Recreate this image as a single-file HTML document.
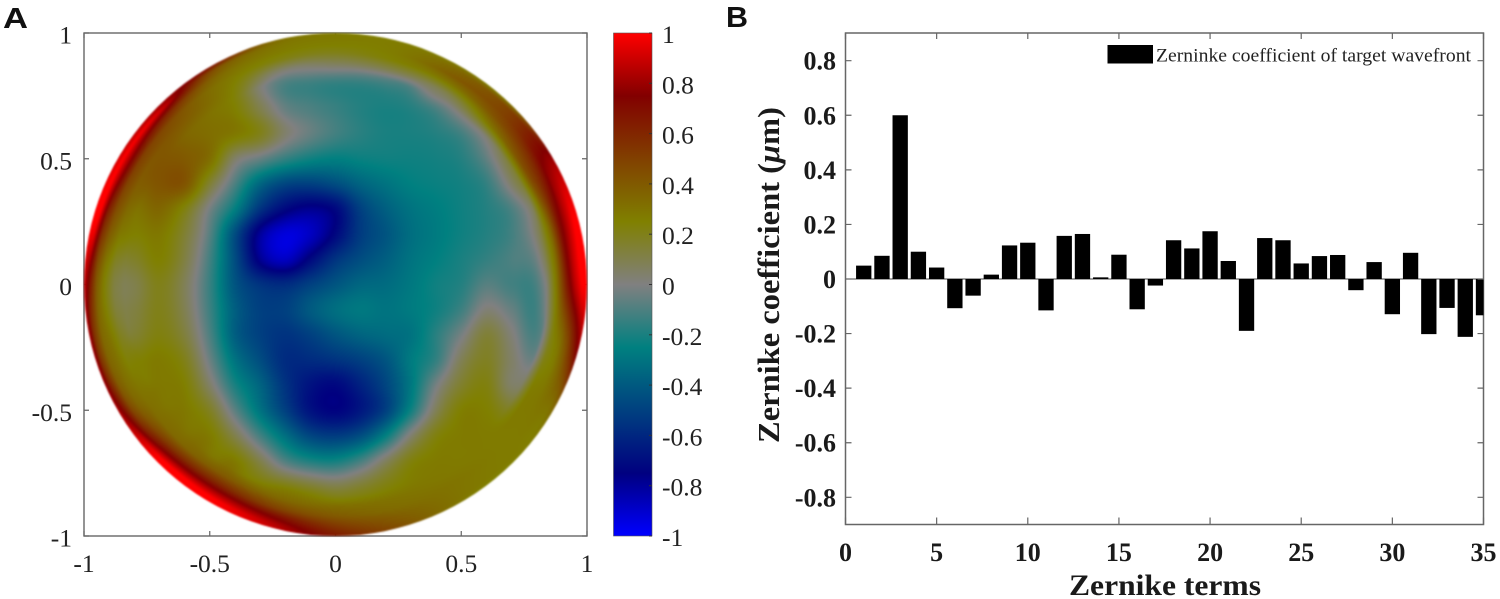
<!DOCTYPE html>
<html lang="en">
<head>
<meta charset="utf-8">
<title>Target wavefront and Zernike coefficients</title>
<style>
html,body{margin:0;padding:0;background:#fff;}
#stage{position:relative;width:1500px;height:599px;overflow:hidden;background:#fff;}
#stage svg{position:absolute;left:0;top:0;}
#over{filter:blur(0.3px);}
#wave{position:absolute;left:0;top:0;filter:blur(0.8px);}
text{font-family:"Liberation Serif",serif;fill:#222;}
.bold{font-weight:bold;fill:#1a1a1a;}
.panel{font-family:"Liberation Sans",sans-serif;font-weight:bold;font-size:29px;fill:#111;}
</style>
</head>
<body>
<div id="stage">
<svg id="under" width="1500" height="599"></svg>
<canvas id="wave" width="1500" height="599"></canvas>
<svg id="over" width="1500" height="599"></svg>
</div>
<script>
// ---------- Panel A data ----------
const gridX = [-1,-.9,-.8,-.7,-.6,-.5,-.4,-.3,-.2,-.1,0,.1,.2,.3,.4,.5,.6,.7,.8,.9,1];
const gridY = [1,.9,.8,.7,.6,.5,.4,.3,.2,.1,0,-.1,-.2,-.3,-.4,-.5,-.6,-.7,-.8,-.9,-1];
const waveGrid = [
[.3,.3,.3,.3,.3,.3,.3,.3,.3,.3,.3,.3,.3,.3,.3,.3,.3,.3,.3,.3,.3],
[.4,.4,.4,.4,.4,.35,.3,.25,.2,.15,.15,.15,.2,.25,.3,.35,.4,.4,.4,.4,.4],
[.5,.5,.5,.45,.35,.3,.22,.03,-.1,-.13,-.15,-.15,-.12,-.06,.17,.3,.4,.45,.5,.5,.5],
[.5,.5,.45,.4,.35,.3,.25,.1,-.05,-.1,-.14,-.18,-.2,-.18,-.1,.07,.3,.5,.5,.5,.5],
[.5,.5,.5,.4,.35,.32,.28,.2,.04,-.05,-.12,-.17,-.2,-.2,-.18,-.12,.05,.3,.6,.6,.6],
[.6,.6,.45,.42,.4,.32,.05,-.05,-.15,-.22,-.25,-.23,-.22,-.22,-.21,-.18,-.06,.18,.45,.7,.7],
[.6,.5,.38,.42,.42,.15,-.1,-.35,-.48,-.5,-.45,-.36,-.3,-.25,-.23,-.21,-.15,.05,.3,.65,.8],
[.6,.4,.3,.35,.22,-.02,-.25,-.55,-.72,-.78,-.72,-.5,-.38,-.3,-.26,-.22,-.18,-.1,.12,.6,.9],
[.5,.32,.25,.28,.15,-.08,-.45,-.8,-.93,-.88,-.72,-.52,-.42,-.32,-.27,-.22,-.18,-.12,.05,.5,1],
[.4,.17,.17,.25,.12,-.12,-.45,-.78,-.88,-.72,-.55,-.45,-.38,-.3,-.25,-.2,-.15,-.1,-.03,.4,1],
[.3,.1,.1,.2,.08,-.14,-.42,-.55,-.58,-.5,-.42,-.35,-.33,-.28,-.22,-.18,-.08,-.12,-.1,.3,1],
[.4,.12,.12,.2,.09,-.13,-.38,-.5,-.5,-.4,-.32,-.28,-.3,-.27,-.22,-.13,.02,-.05,-.12,.3,.9],
[.5,.15,.15,.22,.13,-.1,-.38,-.5,-.55,-.5,-.42,-.36,-.33,-.3,-.17,-.02,.14,.02,-.1,.25,.8],
[.7,.4,.25,.27,.2,-.04,-.3,-.45,-.58,-.58,-.55,-.5,-.42,-.27,-.15,.08,.18,.05,-.02,.4,.7],
[.8,.6,.3,.28,.25,.05,-.2,-.36,-.55,-.68,-.72,-.62,-.48,-.28,-.02,.16,.22,.05,.12,.4,.6],
[.9,.8,.55,.32,.28,.18,-.07,-.3,-.5,-.68,-.74,-.66,-.5,-.22,.08,.25,.25,.18,.27,.4,.4],
[.9,.9,.85,.5,.32,.27,.1,-.12,-.32,-.48,-.52,-.45,-.25,.03,.22,.27,.27,.27,.3,.3,.3],
[.9,.9,.9,.9,.55,.32,.27,.1,-.1,-.2,-.22,-.12,.06,.22,.27,.27,.27,.27,.27,.27,.27],
[.9,.9,.9,.9,.9,.65,.38,.28,.22,.15,.1,.15,.22,.27,.28,.28,.28,.28,.28,.28,.28],
[.9,.9,.9,.9,.9,.9,.85,.65,.5,.4,.32,.3,.3,.33,.3,.3,.3,.3,.3,.3,.3],
[.9,.9,.9,.9,.9,.9,.9,.8,.7,.6,.5,.4,.35,.3,.3,.3,.3,.3,.3,.3,.3]
];
// Rim of the aperture, one row every 15 degrees counter-clockwise from +x
const rimRadii = [.88,.92,.95,.98,1];
const rimValues = [
[.3,.65,.85,1,1],
[.35,.7,.85,1,1],
[.45,.6,.75,.8,.8],
[.3,.45,.5,.5,.3],
[.1,.3,.4,.35,.27],
[.1,.25,.27,.27,.26],
[.08,.2,.25,.27,.27],
[.05,.22,.27,.3,.35],
[.28,.3,.35,.45,.7],
[.4,.45,.6,.9,.8],
[.4,.5,.75,1,.9],
[.3,.42,.6,1,1],
[.12,.25,.4,.7,.9],
[.2,.3,.35,.55,.85],
[.3,.35,.45,.7,.85],
[.35,.55,.75,1,1],
[.4,.6,.8,1,1],
[.35,.5,.7,.85,.9],
[.32,.4,.5,.6,.65],
[.3,.33,.38,.42,.45],
[.28,.3,.3,.3,.28],
[.27,.27,.27,.27,.25],
[.27,.28,.3,.3,.35],
[.2,.3,.45,.65,.8]
];
const colorKnots = [-1,-.75,-.25,0,.25,.75,1];
const colorReds = [0,0,0,128,128,130,255];
const colorGreens = [0,0,128,128,128,0,0];
const colorBlues = [255,128,128,128,0,0,0];
const waveTicks = [-1,-.5,0,.5,1];
const waveTickLabels = ["-1","-0.5","0","0.5","1"];
const barTicks = [1,.8,.6,.4,.2,0,-.2,-.4,-.6,-.8,-1];
const barTickLabels = ["1","0.8","0.6","0.4","0.2","0","-0.2","-0.4","-0.6","-0.8","-1"];

// ---------- Panel B data ----------
const terms = [1,2,3,4,5,6,7,8,9,10,11,12,13,14,15,16,17,18,19,20,21,22,23,24,25,26,27,28,29,30,31,32,33,34,35];
const coefficients = [.049,.085,.6,.1,.042,-.107,-.061,.016,.123,.133,-.115,.158,.165,.006,.089,-.111,-.024,.142,.112,.175,.066,-.19,.15,.142,.057,.084,.088,-.041,.062,-.129,.096,-.202,-.106,-.212,-.133];
const termTicks = [0,5,10,15,20,25,30,35];
const termTickLabels = ["0","5","10","15","20","25","30","35"];
const coefTicks = [.8,.6,.4,.2,0,-.2,-.4,-.6,-.8];
const coefTickLabels = ["0.8","0.6","0.4","0.2","0","-0.2","-0.4","-0.6","-0.8"];

// ---------- Axis functions ----------
const A = {l:84,r:587,t:33,b:536};
const waveXS = v => (A.l+A.r)/2 + v*(A.r-A.l)/2;
const waveYS = v => (A.t+A.b)/2 - v*(A.b-A.t)/2;
const waveXI = p => (p-(A.l+A.r)/2)/((A.r-A.l)/2);
const waveYI = p => ((A.t+A.b)/2-p)/((A.b-A.t)/2);
const CB = {l:613.5,r:652,t:33,b:536};
const cbYS = v => CB.t + (1-v)/2*(CB.b-CB.t);
const B = {l:845.5,r:1483.5,t:33,b:524.5};
const termS = v => B.l + v/35*(B.r-B.l);
const coefS = v => 279 - v*272.9;

// ---------- Colour and field ----------
function colorOf(v){
  v=Math.max(-1,Math.min(1,v));
  let i=0; while(i<colorKnots.length-2 && v>colorKnots[i+1]) i++;
  const t=(v-colorKnots[i])/(colorKnots[i+1]-colorKnots[i]);
  return [colorReds[i]+t*(colorReds[i+1]-colorReds[i]),
          colorGreens[i]+t*(colorGreens[i+1]-colorGreens[i]),
          colorBlues[i]+t*(colorBlues[i+1]-colorBlues[i])];
}
function cr(a,b,c,d,t){return .5*(2*b+(c-a)*t+(2*a-5*b+4*c-d)*t*t+(3*b-a-3*c+d)*t*t*t);}
function gridAt(X,Y){
  const n=gridX.length;
  const fx=(X-gridX[0])/(gridX[1]-gridX[0]), fy=(Y-gridY[0])/(gridY[1]-gridY[0]);
  const ix=Math.max(0,Math.min(n-2,Math.floor(fx))), iy=Math.max(0,Math.min(n-2,Math.floor(fy)));
  const tx=fx-ix, ty=fy-iy, c=k=>Math.max(0,Math.min(n-1,k)), col=[];
  for(let j=-1;j<=2;j++){
    const row=waveGrid[c(iy+j)];
    col.push(cr(row[c(ix-1)],row[c(ix)],row[c(ix+1)],row[c(ix+2)],tx));
  }
  return cr(col[0],col[1],col[2],col[3],ty);
}
const RIM_START=.84;
function rimAt(aDeg,level){
  const m=rimValues.length, f=((aDeg%360+360)%360)/(360/m), i=Math.floor(f), t=f-i;
  return cr(rimValues[(i-1+m)%m][level],rimValues[i%m][level],rimValues[(i+1)%m][level],rimValues[(i+2)%m][level],t);
}
function fieldAt(X,Y){
  const r=Math.hypot(X,Y);
  if(r<=RIM_START) return gridAt(X,Y);
  const a=Math.atan2(Y,X)*180/Math.PI;
  let prevR=RIM_START, prevV=gridAt(X/r*RIM_START,Y/r*RIM_START);
  for(let k=0;k<rimRadii.length;k++){
    const v=rimAt(a,k);
    if(r<=rimRadii[k]){const t=(r-prevR)/(rimRadii[k]-prevR);return prevV+t*(v-prevV);}
    prevR=rimRadii[k];prevV=v;
  }
  return prevV;
}

// ---------- Heatmap ----------
(function(){
  const cv=document.getElementById('wave'), ctx=cv.getContext('2d');
  const off=document.createElement('canvas'); off.width=1500; off.height=599;
  const oc=off.getContext('2d'), img=oc.createImageData(1500,599);
  for(let py=A.t-2;py<=A.b+2;py++){
    for(let px=A.l-2;px<=A.r+2;px++){
      const X=waveXI(px+.5),Y=waveYI(py+.5);
      if(Math.hypot(X,Y)>1.02) continue;
      const c=colorOf(fieldAt(X,Y)), o=(py*1500+px)*4;
      img.data[o]=c[0];img.data[o+1]=c[1];img.data[o+2]=c[2];img.data[o+3]=255;
    }
  }
  oc.putImageData(img,0,0);
  ctx.save();
  ctx.beginPath();
  ctx.arc(waveXS(0),waveYS(0),(A.r-A.l)/2,0,Math.PI*2);
  ctx.clip();
  ctx.drawImage(off,0,0);
  ctx.restore();
})();

// ---------- SVG helpers ----------
const NS='http://www.w3.org/2000/svg';
const under=document.getElementById('under'), over=document.getElementById('over');
function mk(parent,tag,attrs,text){
  const e=document.createElementNS(NS,tag);
  for(const k in attrs) e.setAttribute(k,attrs[k]);
  if(text!==undefined) e.textContent=text;
  parent.appendChild(e);
  return e;
}
const AX='#666';

// ---------- Panel A frame ----------
const frameA=mk(under,'rect',{x:A.l,y:A.t,width:A.r-A.l,height:A.b-A.t,fill:'none',stroke:AX,'stroke-width':1.4});


waveTicks.forEach((v,i)=>{
  const tb=mk(under,'path',{d:`M${waveXS(v)} ${A.b}v-5M${waveXS(v)} ${A.t}v5`,stroke:AX,'stroke-width':1.2,fill:'none'});
  
  
  const tl=mk(under,'path',{d:`M${A.l} ${waveYS(v)}h5M${A.r} ${waveYS(v)}h-5`,stroke:AX,'stroke-width':1.2,fill:'none'});
  
  
  const xl=mk(over,'text',{x:waveXS(v),y:572,'text-anchor':'middle','font-size':25.5},waveTickLabels[i]);
  
  
  const yl=mk(over,'text',{x:A.l-12,y:waveYS(v)+10.5,'text-anchor':'end','font-size':25.5},waveTickLabels[i]);
  
  
});

// ---------- Colorbar ----------
const defs=mk(over,'defs',{});
const grad=mk(defs,'linearGradient',{id:'cbGrad',x1:0,y1:0,x2:0,y2:1});
colorKnots.slice().reverse().forEach(k=>{
  const c=colorOf(k);
  mk(grad,'stop',{offset:(1-k)/2,'stop-color':`rgb(${c[0]},${c[1]},${c[2]})`});
});
const cbRect=mk(over,'rect',{x:CB.l,y:CB.t,width:CB.r-CB.l,height:CB.b-CB.t,fill:'url(#cbGrad)',stroke:'#555','stroke-width':.6});


barTicks.forEach((v,i)=>{
  const t=mk(over,'line',{x1:CB.r,x2:CB.r-3,y1:cbYS(v),y2:cbYS(v),stroke:'#333','stroke-width':1});
  
  
  const l=mk(over,'text',{x:662,y:cbYS(v)+10,'font-size':25.5},barTickLabels[i]);
  
  
});

// ---------- Panel B ----------
const clip=mk(defs,'clipPath',{id:'plotClip'});
mk(clip,'rect',{x:B.l,y:B.t,width:B.r-B.l,height:B.b-B.t});
const frameB=mk(over,'rect',{x:B.l,y:B.t,width:B.r-B.l,height:B.b-B.t,fill:'none',stroke:AX,'stroke-width':1.5});


const zeroLine=mk(over,'line',{x1:B.l,x2:B.r,y1:coefS(0),y2:coefS(0),stroke:'#444','stroke-width':1});


const barGroup=mk(over,'g',{'clip-path':'url(#plotClip)'});


const BAR_UNITS=.84;
terms.forEach((t,i)=>{
  const v=coefficients[i], x0=termS(t-BAR_UNITS/2), x1=termS(t+BAR_UNITS/2);
  const y0=coefS(Math.max(v,0)), y1=coefS(Math.min(v,0));
  const b=mk(barGroup,'rect',{x:x0,y:y0,width:x1-x0,height:y1-y0,fill:'#000'});
  
  
});
termTicks.forEach((v,i)=>{
  const t=mk(over,'path',{d:`M${termS(v)} ${B.b}v-7M${termS(v)} ${B.t}v6`,stroke:AX,'stroke-width':1.2,fill:'none'});
  
  
  const l=mk(over,'text',{x:termS(v),y:561,'text-anchor':'middle','font-size':26,class:'bold'},termTickLabels[i]);
  
  
});
coefTicks.forEach((v,i)=>{
  const t=mk(over,'path',{d:`M${B.l} ${coefS(v)}h6M${B.r} ${coefS(v)}h-6`,stroke:AX,'stroke-width':1.2,fill:'none'});
  
  
  const l=mk(over,'text',{x:836,y:coefS(v)+9,'text-anchor':'end','font-size':26,class:'bold'},coefTickLabels[i]);
  
  
});
const xTitle=mk(over,'text',{x:1165,y:595,'text-anchor':'middle','font-size':30,class:'bold',textLength:192,lengthAdjust:'spacingAndGlyphs'},'Zernike terms');


const yTitle=mk(over,'text',{transform:'translate(779,275) rotate(-90)','text-anchor':'middle','font-size':31,class:'bold',textLength:336,lengthAdjust:'spacingAndGlyphs'});


yTitle.appendChild(document.createTextNode('Zernike coefficient ('));
const mu=mk(yTitle,'tspan',{'font-style':'italic'},'\u03bc');


yTitle.appendChild(document.createTextNode('m)'));
const swatch=mk(over,'rect',{x:1107.5,y:45,width:45.5,height:18.5,fill:'#000'});


const legendText=mk(over,'text',{x:1156,y:61.5,'font-size':19,textLength:315,lengthAdjust:'spacingAndGlyphs'},'Zerninke coefficient of target wavefront');



// ---------- Panel letters ----------
const letterA=mk(over,'text',{x:3,y:28,class:'panel',textLength:25,lengthAdjust:'spacingAndGlyphs'},'A');


const letterB=mk(over,'text',{x:726,y:27,class:'panel',textLength:22,lengthAdjust:'spacingAndGlyphs'},'B');


</script>
</body>
</html>
